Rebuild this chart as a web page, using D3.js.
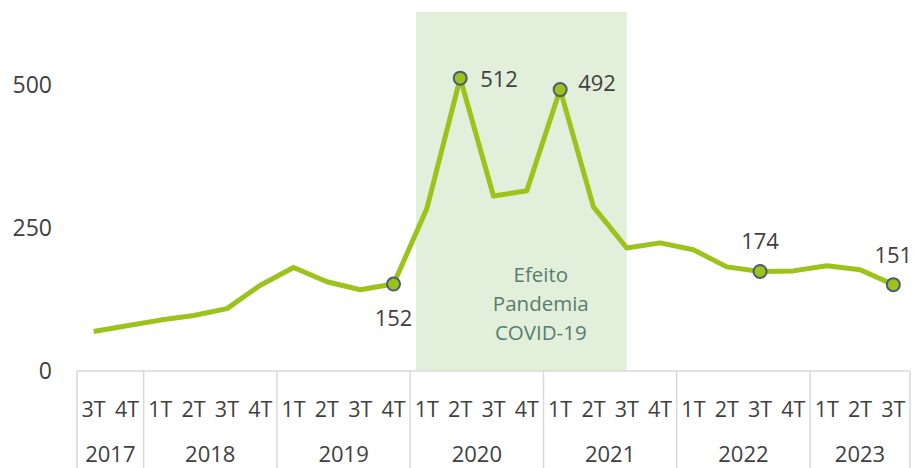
<!DOCTYPE html>
<html>
<head>
<meta charset="utf-8">
<script src="https://cdn.jsdelivr.net/npm/d3@7"></script>
<style>
  html, body { margin: 0; padding: 0; background: #fff; }
  svg { display: block; font-family: "Open Sans", sans-serif; }
</style>
</head>
<body>
<svg id="chart" width="915" height="468"></svg>
<script>
const years    = ["2017", "2018", "2019", "2020", "2021", "2022", "2023"];
const quarters = ["3T","4T", "1T","2T","3T","4T", "1T","2T","3T","4T", "1T","2T","3T","4T",
                  "1T","2T","3T","4T", "1T","2T","3T","4T", "1T","2T","3T"];
const yearOf   = ["2017","2017", "2018","2018","2018","2018", "2019","2019","2019","2019",
                  "2020","2020","2020","2020", "2021","2021","2021","2021",
                  "2022","2022","2022","2022", "2023","2023","2023"];
const values   = [69, 79, 89, 97, 109, 150, 181, 156, 142, 152,
                  284, 512, 306, 315, 492, 287, 215, 224, 212, 182,
                  174, 175, 184, 177, 151];
const labeled  = [9, 11, 14, 20, 24];   // indices with markers + value labels
const yTicks   = [0, 250, 500];
const shadeText = ["Efeito", "Pandemia", "COVID-19"];

const width = 915, height = 468;
const margin = { top: 12, right: 5, bottom: 97, left: 77 };

const svg = d3.select("#chart");

const x = d3.scaleLinear()
  .domain([-0.5, quarters.length - 0.5])
  .range([margin.left, width - margin.right]);
const y = d3.scaleLinear()
  .domain([0, 500])
  .range([height - margin.bottom, 85]);
const y0 = y(0);

// pandemic shading
svg.append("rect")
  .attr("x", x(9.67))
  .attr("y", y(628))
  .attr("width", x(16) - x(9.67))
  .attr("height", y0 - y(628))
  .attr("fill", "#e2efda");

svg.append("g")
  .attr("fill", "#587d70")
  .attr("font-size", 20.5)
  .attr("text-anchor", "middle")
  .selectAll("text")
  .data(shadeText)
  .join("text")
  .attr("x", (x(12.5) + x(13.5)) / 2 + 14)
  .attr("y", (d, i) => 282 + i * 29)
  .text(d => d);

// y tick labels (no axis line)
svg.append("g")
  .attr("fill", "#404040")
  .attr("font-size", 23)
  .attr("text-anchor", "end")
  .selectAll("text")
  .data(yTicks)
  .join("text")
  .attr("x", 52)
  .attr("y", d => y(d) + 8)
  .text(d => d);

// category axis: horizontal line + year dividers
const grid = svg.append("g").attr("stroke", "#d9d9d9").attr("stroke-width", 1.5);
grid.append("line")
  .attr("x1", x(-0.5)).attr("x2", x(quarters.length - 0.5))
  .attr("y1", y0).attr("y2", y0);

const yearStarts = years.map(yr => yearOf.indexOf(yr));
const dividers = yearStarts.concat([quarters.length]);
grid.selectAll("line.div")
  .data(dividers)
  .join("line")
  .attr("class", "div")
  .attr("x1", d => x(d - 0.5)).attr("x2", d => x(d - 0.5))
  .attr("y1", y0).attr("y2", height);

svg.append("g")
  .attr("fill", "#404040")
  .attr("font-size", 21.5)
  .attr("text-anchor", "middle")
  .selectAll("text")
  .data(quarters)
  .join("text")
  .attr("x", (d, i) => x(i))
  .attr("y", y0 + 46)
  .text(d => d);

svg.append("g")
  .attr("fill", "#404040")
  .attr("font-size", 22)
  .attr("text-anchor", "middle")
  .selectAll("text")
  .data(years)
  .join("text")
  .attr("x", (d, i) => {
    const s = yearStarts[i];
    const e = i + 1 < yearStarts.length ? yearStarts[i + 1] : quarters.length;
    return (x(s - 0.5) + x(e - 0.5)) / 2;
  })
  .attr("y", y0 + 91)
  .text(d => d);

// line
const line = d3.line()
  .x((d, i) => x(i))
  .y(d => y(d));

svg.append("path")
  .datum(values)
  .attr("fill", "none")
  .attr("stroke", "#9bc31c")
  .attr("stroke-width", 5)
  .attr("stroke-linejoin", "round")
  .attr("d", line);

// markers
svg.append("g")
  .selectAll("circle")
  .data(labeled)
  .join("circle")
  .attr("cx", i => x(i))
  .attr("cy", i => y(values[i]))
  .attr("r", 6.5)
  .attr("fill", "#9bc31c")
  .attr("stroke", "#4a5e6e")
  .attr("stroke-width", 2);

// value labels
const labelPos = {
  9:  { dx: 0,  dy: 42, anchor: "middle" },
  11: { dx: 20, dy: 9,  anchor: "start" },
  14: { dx: 18, dy: 1,  anchor: "start" },
  20: { dx: 0,  dy: -22, anchor: "middle" },
  24: { dx: 0,  dy: -22, anchor: "middle" }
};
svg.append("g")
  .attr("fill", "#404040")
  .attr("font-size", 22)
  .selectAll("text")
  .data(labeled)
  .join("text")
  .attr("x", i => x(i) + labelPos[i].dx)
  .attr("y", i => y(values[i]) + labelPos[i].dy)
  .attr("text-anchor", i => labelPos[i].anchor)
  .text(i => values[i]);
</script>
</body>
</html>
